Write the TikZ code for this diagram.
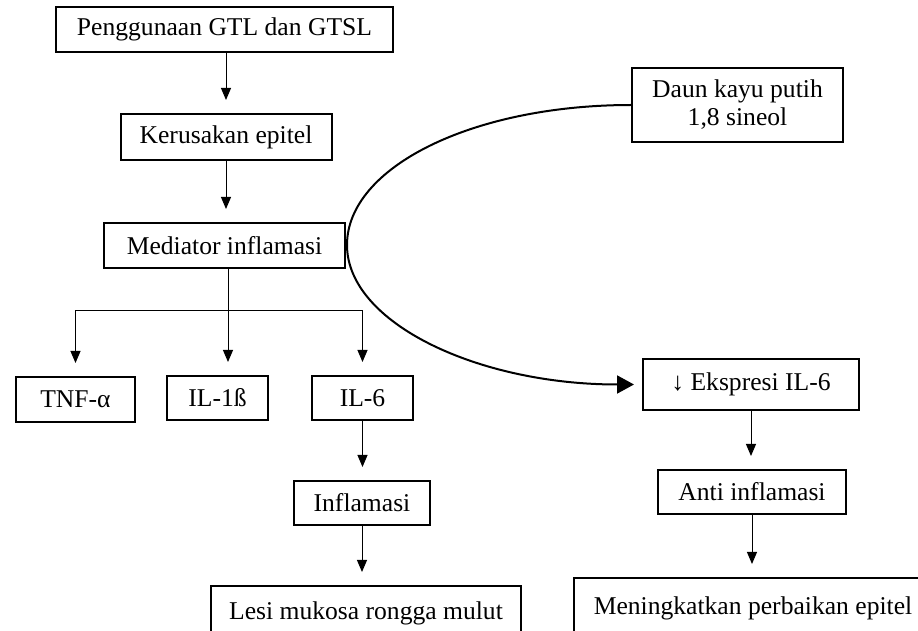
\documentclass[tikz,border=0pt]{standalone}
\usepackage{fontspec}
\setmainfont{Liberation Serif}
\usetikzlibrary{arrows.meta}
\usetikzlibrary{positioning}

\tikzset{
	box/.style={draw, line width=1pt, inner sep=0pt, align=center,
		font=\fontsize{12.8}{14}\selectfont},
	arr/.style={-{Triangle[length=6pt,width=5pt]}, line width=0.5pt, shorten >=6.5pt},
	bigarr/.style={-{Triangle[length=8.5pt,width=9pt]}, line width=1pt, shorten >=4pt}
}

\begin{document}
\begin{tikzpicture}
	[x=0.5pt,y=-0.5pt]
	\useasboundingbox (0,0) rectangle (918,631);
	% left column
	\node[box, minimum width=168.5pt, minimum height=22.5pt] (peng) at (224.5,29.5) {Penggunaan GTL dan GTSL};
	\node[box, minimum width=105.5pt, minimum height=23pt] (kerus) at (226,137) {Kerusakan epitel};
	\node[box, minimum width=120.5pt, minimum height=22.5pt] (med) at (224.5,245.5) {Mediator inflamasi};
	\node[box, minimum width=59.5pt, minimum height=22.5pt] (tnf) at (75.5,399.5) {TNF-α};
	\node[box, minimum width=50.5pt, minimum height=22pt] (il1) at (217.5,398) {IL-1ß};
	\node[box, minimum width=50.5pt, minimum height=22pt] (il6) at (362.5,398) {IL-6};
	\node[box, minimum width=68pt, minimum height=22pt] (infl) at (362,503) {Inflamasi};
	\node[box, minimum width=155pt, minimum height=27pt] (lesi) at (366,613) {Lesi mukosa rongga mulut};
	% right column
	\node[box, minimum width=105.5pt, minimum height=37pt] (daun) at (737.5,105) {Daun kayu putih\\1,8 sineol};
	\node[box, minimum width=108pt, minimum height=25.5pt] (eks) at (751,384.5) {↓ Ekspresi IL-6};
	\node[box, minimum width=94pt, minimum height=22pt] (anti) at (752,492) {Anti inflamasi};
	\node[box, minimum width=179pt, minimum height=30pt] (mening) at (753,608) {Meningkatkan perbaikan epitel};

	\coordinate (split) at (228,311);
	\coordinate (lm) at (347,245);

	\draw[arr] (kerus.north |- peng.south) -- (kerus.north);
	\draw[arr] (kerus.south) -- (kerus.south |- med.north);
	\draw[line width=0.5pt] (split |- med.south) -- (split);
	\draw[arr] (split) -| (tnf.north);
	\draw[arr] (split) -- (split |- il1.north);
	\draw[arr] (split) -| (il6.north);
	\draw[arr] (il6.south) -- (il6.south |- infl.north);
	\draw[arr] (infl.south) -- (infl.south |- lesi.north);

	\draw[bigarr] (daun.west) to[out=180,in=90,out distance=79pt,in distance=39pt] (lm)
		to[out=-90,in=180,out distance=39pt,in distance=82pt] (eks.west);
	\draw[arr] (eks.south) -- (eks.south |- anti.north);
	\draw[arr] (anti.south) -- (anti.south |- mening.north);
\end{tikzpicture}
\end{document}
